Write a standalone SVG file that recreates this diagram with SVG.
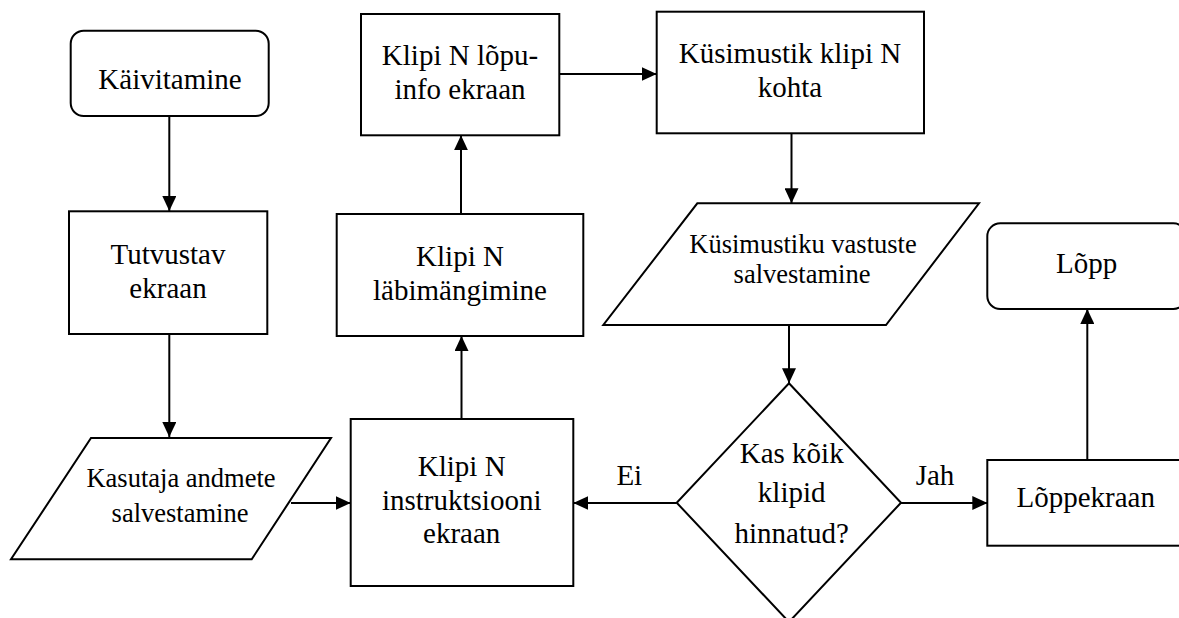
<svg xmlns="http://www.w3.org/2000/svg" width="1179" height="618" viewBox="0 0 1179 618">
<defs>
<marker id="ah" viewBox="0 0 15 14" refX="15" refY="7" markerWidth="15" markerHeight="14" markerUnits="userSpaceOnUse" orient="auto">
<path d="M0,0 L15,7 L0,14 Z" fill="#000"/>
</marker>
</defs>
<style>
.s{fill:#fff;stroke:#000;stroke-width:2}
.t{font-size:29px;fill:#000;text-anchor:middle}
.p{font-size:26.5px;fill:#000;text-anchor:middle}
.c{fill:none;stroke:#000;stroke-width:2;marker-end:url(#ah)}
</style>
<rect width="1179" height="618" fill="#fff"/>
<g font-family="Liberation Serif, Tinos, Times New Roman, DejaVu Serif, serif">
<g id="connectors">
<line class="c" x1="169.3" y1="116" x2="169.3" y2="211"/>
<line class="c" x1="169.3" y1="334" x2="169.3" y2="437"/>
<line class="c" x1="291" y1="503" x2="350.7" y2="503"/>
<line class="c" x1="461.5" y1="419" x2="461.5" y2="336"/>
<line class="c" x1="461" y1="214" x2="461" y2="135.3"/>
<line class="c" x1="559.3" y1="74" x2="656.7" y2="74"/>
<line class="c" x1="791.5" y1="133.3" x2="791.5" y2="203.3"/>
<line class="c" x1="789" y1="325" x2="789" y2="383.3"/>
<line class="c" x1="676.7" y1="503" x2="573.3" y2="503"/>
<line class="c" x1="901" y1="503" x2="987.3" y2="503"/>
<line class="c" x1="1087.3" y1="460" x2="1087.3" y2="309"/>
<text class="t" x="629.3" y="485">Ei</text>
<text class="t" x="935" y="485">Jah</text>
</g>
<g id="kaivitamine">
<rect class="s" x="70.7" y="30.7" width="198" height="85.3" rx="13"/>
<text class="t" x="170" y="89.3">Käivitamine</text>
</g>
<g id="tutvustav">
<rect class="s" x="69" y="211.3" width="198.3" height="122.7"/>
<text class="t" x="168" y="264.3">Tutvustav</text>
<text class="t" x="168" y="298.3">ekraan</text>
</g>
<g id="kasutaja">
<polygon class="s" points="91,438 331,438 251.7,559.3 11,559.3"/>
<text class="p" x="181" y="486.7">Kasutaja andmete</text>
<text class="p" x="180" y="522.3">salvestamine</text>
</g>
<g id="instruktsioon">
<rect class="s" x="350.7" y="419" width="222.6" height="167"/>
<text class="t" x="461.7" y="475.7">Klipi N</text>
<text class="t" x="461.7" y="510">instruktsiooni</text>
<text class="t" x="461.7" y="543.3">ekraan</text>
</g>
<g id="labimangimine">
<rect class="s" x="336.7" y="214" width="246.6" height="122"/>
<text class="t" x="460" y="265.7">Klipi N</text>
<text class="t" x="460" y="300">läbimängimine</text>
</g>
<g id="lopuinfo">
<rect class="s" x="361" y="14" width="198.3" height="121.3"/>
<text class="t" x="460" y="65">Klipi N lõpu-</text>
<text class="t" x="460" y="99.3">info ekraan</text>
</g>
<g id="kusimustik">
<rect class="s" x="656.7" y="11.7" width="267.3" height="121.6"/>
<text class="t" x="790" y="63.3">Küsimustik klipi N</text>
<text class="t" x="790" y="97.3">kohta</text>
</g>
<g id="vastused">
<polygon class="s" points="697.3,203.3 979,203.3 886,325 603.3,325"/>
<text class="p" x="803" y="252.7">Küsimustiku vastuste</text>
<text class="p" x="802" y="283">salvestamine</text>
</g>
<g id="otsus">
<polygon class="s" points="789,383.3 901,502.7 789,622 676.7,502.7"/>
<text class="t" x="791.7" y="463.3">Kas kõik</text>
<text class="t" x="791.7" y="502">klipid</text>
<text class="t" x="791.7" y="542.7">hinnatud?</text>
</g>
<g id="loppekraan">
<rect class="s" x="987.3" y="460" width="199" height="85.7"/>
<text class="t" x="1085.7" y="507.3">Lõppekraan</text>
</g>
<g id="lopp">
<rect class="s" x="987.3" y="223.3" width="199" height="85.7" rx="13"/>
<text class="t" x="1086.7" y="273.3">Lõpp</text>
</g>
</g>
</svg>
